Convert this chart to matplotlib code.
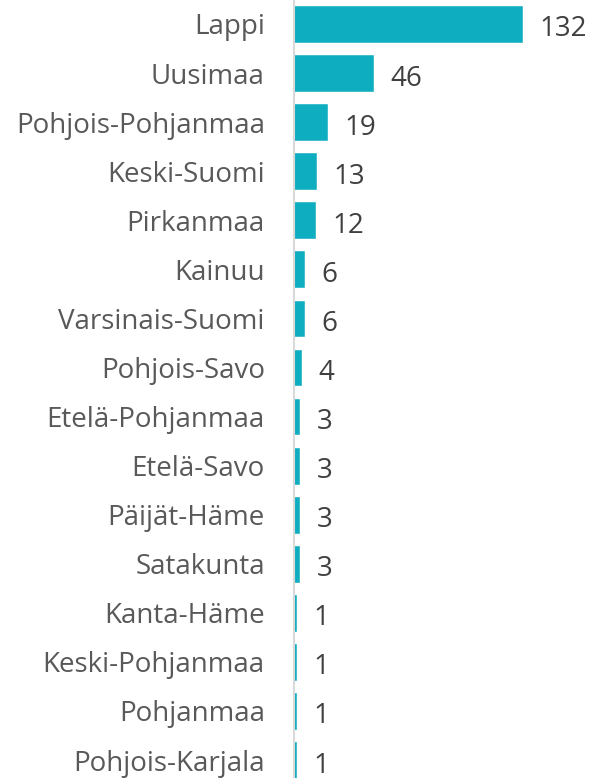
import matplotlib
matplotlib.use("Agg")
import matplotlib.pyplot as plt

regions = ["Lappi", "Uusimaa", "Pohjois-Pohjanmaa", "Keski-Suomi", "Pirkanmaa",
           "Kainuu", "Varsinais-Suomi", "Pohjois-Savo", "Etelä-Pohjanmaa",
           "Etelä-Savo", "Päijät-Häme", "Satakunta", "Kanta-Häme",
           "Keski-Pohjanmaa", "Pohjanmaa", "Pohjois-Karjala"]
counts = [132, 46, 19, 13, 12, 6, 6, 4, 3, 3, 3, 3, 1, 1, 1, 1]

BAR_COLOR = "#0FADC0"
plt.rcParams["font.family"] = ["Open Sans", "DejaVu Sans"]

fig = plt.figure(figsize=(5.92, 7.78), dpi=100)
ax = fig.add_axes([294 / 592, 0, 1 - 294 / 592, 1])

pos = list(range(len(regions)))
ax.barh(pos, counts, height=0.73, color=BAR_COLOR, edgecolor=BAR_COLOR, linewidth=0.4)

for y, v in zip(pos, counts):
    ax.text(v + 10, y + 0.04, str(v), va="center_baseline", ha="left",
            fontsize=20, color="#404040")

ax.set_xlim(0, 172.5)
ax.set_ylim(15.366, -0.489)
ax.set_yticks(pos)
ax.set_yticklabels(regions, fontsize=20, color="#595959", va="center_baseline")
ax.tick_params(axis="y", length=0, pad=21)
ax.set_xticks([])
for side in ["top", "right", "bottom"]:
    ax.spines[side].set_visible(False)
ax.spines["left"].set_color("#D9D9D9")
ax.spines["left"].set_linewidth(1.5)

fig.savefig("out.png", dpi=100)
